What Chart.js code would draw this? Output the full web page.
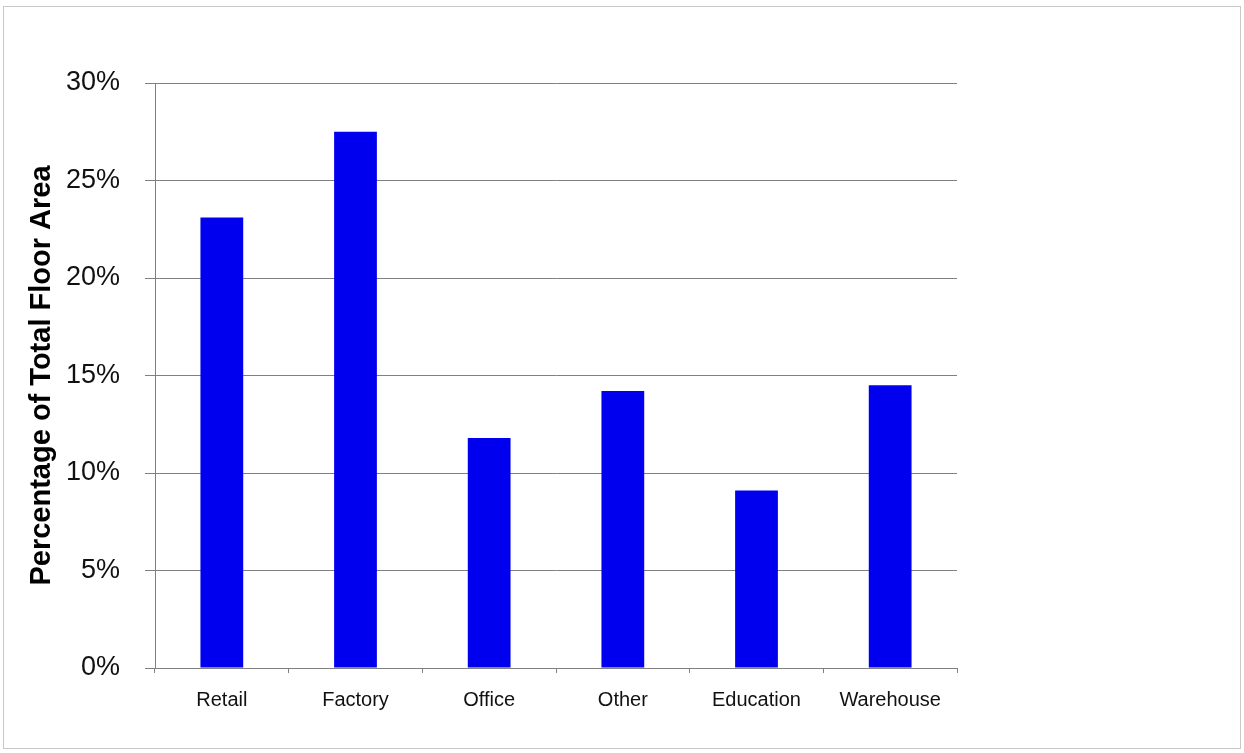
<!DOCTYPE html>
<html>
<head>
<meta charset="utf-8">
<script src="https://cdn.jsdelivr.net/npm/chart.js@4"></script>
<style>
  html, body { margin: 0; padding: 0; background: #ffffff; }
  #wrap { position: relative; width: 1244px; height: 753px; }
  #frame { position: absolute; left: 3px; top: 6px; width: 1236px; height: 741px; border: 1px solid #c9c9c9; pointer-events: none; }
  canvas { position: absolute; left: 0; top: 0; }
</style>
</head>
<body>
<div id="wrap">
  <canvas id="c" width="1244" height="753"></canvas>
  <div id="frame"></div>
</div>
<script>
const categories = ['Retail', 'Factory', 'Office', 'Other', 'Education', 'Warehouse'];
const shareOfFloorArea = [23.1, 27.5, 11.8, 14.2, 9.1, 14.5];
const yTickValues = [0, 5, 10, 15, 20, 25, 30];
const yAxisTitle = 'Percentage of Total Floor Area';

const FONT = "'Liberation Sans', Arial, sans-serif";

new Chart(document.getElementById('c'), {
  type: 'bar',
  data: {
    labels: categories,
    datasets: [{
      data: shareOfFloorArea,
      backgroundColor: '#0000ee',
      borderWidth: 0,
      barPercentage: 0.32,
      categoryPercentage: 1.0
    }]
  },
  options: {
    responsive: false,
    animation: false,
    devicePixelRatio: 1,
    layout: { padding: { left: 0, top: 83, right: 287, bottom: 0 } },
    plugins: { legend: { display: false }, tooltip: { enabled: false } },
    scales: {
      x: {
        grid: { drawOnChartArea: false, drawTicks: true, tickLength: 5, color: '#808080', offset: true },
        border: { display: true, color: '#808080', width: 1 },
        ticks: { color: '#111111', font: { family: FONT, size: 20 }, padding: 15, maxRotation: 0, autoSkip: false },
        afterFit: (s) => { s.height = 85; }
      },
      y: {
        min: 0, max: 30,
        afterBuildTicks: (s) => { s.ticks = yTickValues.map(v => ({ value: v })); },
        grid: { color: '#808080', lineWidth: 1, drawTicks: true, tickLength: 10 },
        border: { display: true, color: '#808080', width: 1 },
        ticks: { color: '#111111', font: { family: FONT, size: 27 }, padding: 25, callback: (v) => v + '%' },
        title: { display: true, text: yAxisTitle, color: '#000000', font: { family: FONT, size: 29, weight: 'bold' }, padding: { top: 25, bottom: 0 } },
        afterFit: (s) => { s.width = 155; }
      }
    }
  }
});
</script>
</body>
</html>
